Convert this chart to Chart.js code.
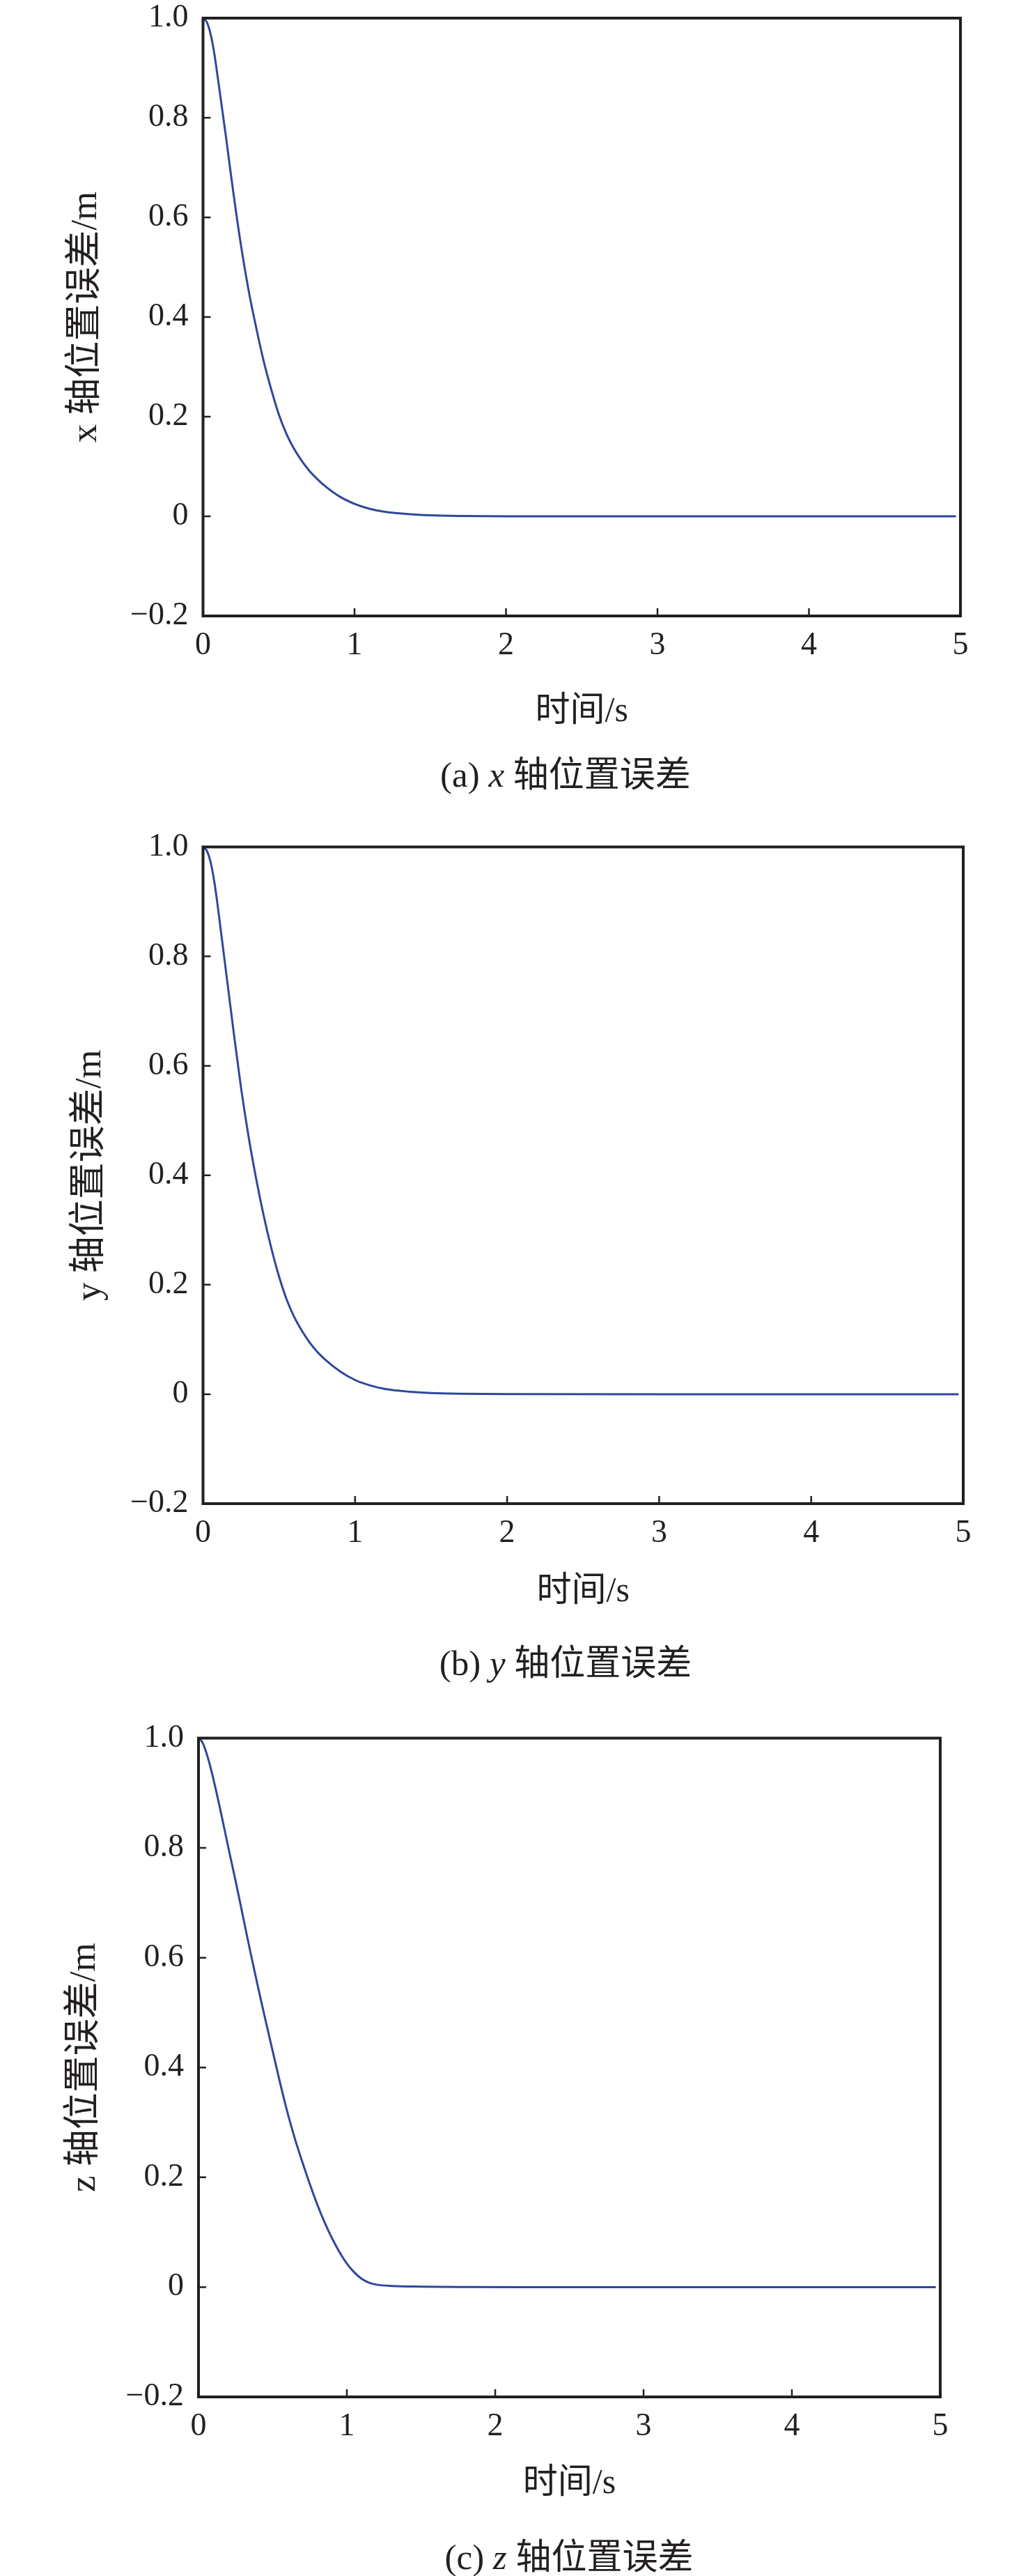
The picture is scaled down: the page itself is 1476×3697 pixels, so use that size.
<!DOCTYPE html>
<html>
<head>
<meta charset="utf-8">
<script src="https://cdn.jsdelivr.net/npm/chart.js@4.4.1/dist/chart.umd.min.js"></script>
<style>
  html, body { margin: 0; padding: 0; background: #fff; }
  body { position: relative; width: 1476px; height: 3697px; overflow: hidden; }
  canvas { position: absolute; left: 0; }
  .cap {
    position: absolute;
    transform: translate(-50%, -50%);
    white-space: nowrap;
    font-family: 'Liberation Serif', 'Noto Sans CJK SC', serif;
    font-size: 51px;
    color: #231f20;
  }
</style>
</head>
<body>
<canvas id="cx" width="1476" height="1060" style="top:0px"></canvas>
<canvas id="cy" width="1476" height="1143" style="top:1180px"></canvas>
<canvas id="cz" width="1476" height="1133" style="top:2470px"></canvas>
<div class="cap" style="left:812px; top:1107px">(a) <i>x</i> 轴位置误差</div>
<div class="cap" style="left:812px; top:2382px">(b) <i>y</i> 轴位置误差</div>
<div class="cap" style="left:817px; top:3665px">(c) <i>z</i> 轴位置误差</div>
<script>
// time samples (s) and position errors (m)
const timeXY = [0, 0.025, 0.05, 0.075, 0.1, 0.125, 0.15, 0.175, 0.2, 0.25, 0.3, 0.35, 0.4, 0.45, 0.5,
  0.55, 0.6, 0.65, 0.7, 0.75, 0.8, 0.9, 1.0, 1.1, 1.2, 1.35, 1.5, 1.7, 2.0, 3.0, 4.0, 4.97];
const errX = [1, 0.992, 0.968, 0.928, 0.875, 0.82, 0.765, 0.707, 0.65, 0.545, 0.455, 0.38, 0.312, 0.255, 0.205,
  0.166, 0.136, 0.112, 0.092, 0.076, 0.062, 0.04, 0.025, 0.015, 0.009, 0.0045, 0.002, 0.0007, 0.0001, 0, 0, 0];
const errY = [1, 0.993, 0.972, 0.935, 0.885, 0.83, 0.775, 0.72, 0.665, 0.56, 0.47, 0.393, 0.325, 0.266, 0.215,
  0.173, 0.141, 0.116, 0.095, 0.078, 0.064, 0.042, 0.026, 0.016, 0.0095, 0.0048, 0.0022, 0.0008, 0.0001, 0, 0, 0];

const timeZ = [0, 0.025, 0.05, 0.075, 0.1, 0.15, 0.2, 0.25, 0.3, 0.35, 0.4, 0.45, 0.5, 0.55, 0.6, 0.65, 0.7,
  0.75, 0.8, 0.85, 0.9, 0.95, 1.0, 1.05, 1.1, 1.15, 1.2, 1.3, 1.5, 1.8, 2.2, 3.0, 4.0, 4.97];
const errZ = [1, 0.993, 0.976, 0.953, 0.926, 0.866, 0.802, 0.74, 0.675, 0.61, 0.548, 0.488, 0.43, 0.372, 0.318, 0.27, 0.228,
  0.188, 0.151, 0.118, 0.089, 0.064, 0.043, 0.027, 0.015, 0.008, 0.0045, 0.0022, 0.001, 0.0003, 0, 0, 0, 0];

const xTickLabels = ['0', '1', '2', '3', '4', '5'];
const yTickLabels = ['\u22120.2', '0', '0.2', '0.4', '0.6', '0.8', '1.0'];

const INK = '#231f20';
const LINE = '#2f479c';
const FONT = "'Liberation Serif', 'Noto Sans CJK SC', serif";

// frame + inward tick marks
const framePlugin = {
  id: 'frame',
  afterDraw(chart) {
    const { ctx, chartArea: a, scales } = chart;
    ctx.save();
    ctx.strokeStyle = INK;
    ctx.lineWidth = 2.5;
    ctx.beginPath();
    scales.x.ticks.forEach(t => {
      const px = scales.x.getPixelForValue(t.value);
      ctx.moveTo(px, a.bottom);
      ctx.lineTo(px, a.bottom - 11);
    });
    scales.y.ticks.forEach(t => {
      const py = scales.y.getPixelForValue(t.value);
      ctx.moveTo(a.left, py);
      ctx.lineTo(a.left + 11, py);
    });
    ctx.stroke();
    ctx.lineWidth = 4;
    ctx.strokeRect(a.left, a.top, a.right - a.left, a.bottom - a.top);
    ctx.restore();
  }
};

function makePanel(id, times, values, yTitle, box) {
  const pts = times.map((t, i) => ({ x: t, y: values[i] }));
  return new Chart(document.getElementById(id), {
    type: 'line',
    data: {
      datasets: [{
        data: pts,
        borderColor: LINE,
        borderWidth: 3,
        pointRadius: 0,
        fill: false,
        cubicInterpolationMode: 'monotone'
      }]
    },
    options: {
      responsive: false,
      animation: false,
      devicePixelRatio: 1,
      layout: { padding: { top: box.top, right: box.right, bottom: 0, left: 0 } },
      plugins: { legend: { display: false }, tooltip: { enabled: false } },
      scales: {
        x: {
          type: 'linear',
          min: 0,
          max: 5,
          grid: { display: false, drawTicks: false },
          border: { display: false },
          ticks: {
            stepSize: 1,
            padding: 20,
            color: INK,
            font: { family: FONT, size: 46, lineHeight: 1 },
            maxRotation: 0,
            callback: (v, i) => xTickLabels[i]
          },
          title: {
            display: true,
            text: '时间/s',
            color: INK,
            font: { family: FONT, size: 50 },
            padding: { top: 0, bottom: 8 }
          },
          afterFit(s) { s.height = box.xh; s.paddingLeft = 0; s.paddingRight = 0; }
        },
        y: {
          min: -0.2,
          max: 1.0,
          grid: { display: false, drawTicks: false },
          border: { display: false },
          ticks: {
            stepSize: 0.2,
            padding: 21,
            color: INK,
            font: { family: FONT, size: 46, lineHeight: 1 },
            callback: (v, i) => yTickLabels[i]
          },
          title: {
            display: true,
            text: yTitle,
            color: INK,
            font: { family: FONT, size: 53 },
            padding: { top: box.yt, bottom: 0 }
          },
          afterFit(s) { s.width = box.yw; s.paddingTop = 0; s.paddingBottom = 0; }
        }
      }
    },
    plugins: [framePlugin]
  });
}

makePanel('cx', timeXY, errX, 'x 轴位置误差/m', { top: 26, right: 97, xh: 176, yw: 291.5, yt: 92 });
makePanel('cy', timeXY, errY, 'y 轴位置误差/m', { top: 35.5, right: 93, xh: 165, yw: 291.5, yt: 98 });
makePanel('cz', timeZ, errZ, 'z 轴位置误差/m', { top: 24.5, right: 126, xh: 163, yw: 285, yt: 90 });
</script>
</body>
</html>
